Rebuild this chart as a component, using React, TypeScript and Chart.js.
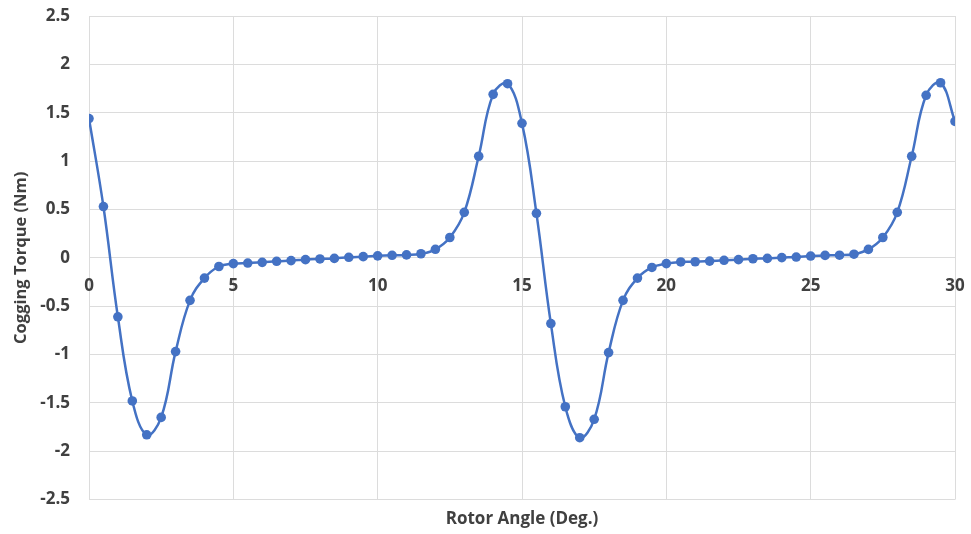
import React, { useEffect, useRef } from "react";
import { Chart, registerables } from "chart.js";

Chart.register(...registerables);

const angles: number[] = [
  0, 0.5, 1, 1.5, 2, 2.5, 3, 3.5, 4, 4.5, 5, 5.5, 6, 6.5, 7, 7.5, 8, 8.5, 9, 9.5,
  10, 10.5, 11, 11.5, 12, 12.5, 13, 13.5, 14, 14.5, 15, 15.5, 16, 16.5, 17, 17.5,
  18, 18.5, 19, 19.5, 20, 20.5, 21, 21.5, 22, 22.5, 23, 23.5, 24, 24.5, 25, 25.5,
  26, 26.5, 27, 27.5, 28, 28.5, 29, 29.5, 30,
];

const torque: number[] = [
  1.44, 0.53, -0.61, -1.48, -1.83, -1.65, -0.97, -0.44, -0.21, -0.09,
  -0.06, -0.054, -0.047, -0.036, -0.029, -0.019, -0.012, -0.006, 0.005, 0.012,
  0.02, 0.026, 0.03, 0.042, 0.088, 0.21, 0.47, 1.05, 1.69, 1.8,
  1.39, 0.46, -0.68, -1.54, -1.86, -1.67, -0.98, -0.44, -0.21, -0.1,
  -0.06, -0.043, -0.041, -0.034, -0.026, -0.019, -0.01, -0.006, 0.002, 0.008,
  0.018, 0.025, 0.027, 0.037, 0.087, 0.21, 0.47, 1.05, 1.68, 1.81,
  1.41,
];

const xTitle = "Rotor Angle (Deg.)";
const yTitle = "Cogging Torque (Nm)";

const TEXT = "#404040";
const GRID = "#dcdcdc";
const BLUE = "#4472C4";
const FAMILY = "'Open Sans', 'Noto Sans', sans-serif";

export default function App() {
  const ref = useRef<HTMLCanvasElement | null>(null);

  useEffect(() => {
    if (!ref.current) return;
    const chart = new Chart(ref.current, {
      type: "line",
      data: {
        datasets: [
          {
            data: angles.map((a, i) => ({ x: a, y: torque[i] })),
            borderColor: BLUE,
            backgroundColor: BLUE,
            borderWidth: 2.5,
            pointRadius: 4.8,
            pointBorderWidth: 0,
            pointBackgroundColor: BLUE,
            tension: 0.4,
            fill: false,
          },
        ],
      },
      options: {
        animation: false,
        responsive: true,
        maintainAspectRatio: false,
        layout: { padding: { top: 16, right: 16, left: 0, bottom: 0 } },
        plugins: {
          legend: { display: false },
          tooltip: { enabled: false },
          title: {
            display: true,
            text: xTitle,
            position: "bottom",
            fullSize: false,
            color: TEXT,
            font: { family: FAMILY, size: 17, weight: "bold" },
            padding: { top: 9, bottom: 5 },
          },
        },
        scales: {
          y: {
            type: "linear",
            min: -2.5,
            max: 2.5,
            ticks: {
              stepSize: 0.5,
              padding: 19,
              color: TEXT,
              font: { family: FAMILY, size: 17, weight: "bold" },
              callback: (v: any) => String(Math.round(Number(v) * 10) / 10),
            },
            grid: { color: GRID, lineWidth: 1, drawTicks: false },
            border: { display: false },
            title: {
              display: true,
              text: yTitle,
              color: TEXT,
              font: { family: FAMILY, size: 16.5, weight: "bold" },
              padding: { top: 11, bottom: 0 },
            },
            afterFit: (s: any) => {
              s.width = 89;
              s.paddingTop = 0;
              s.paddingBottom = 0;
            },
          },
          x: {
            type: "linear",
            min: 0,
            max: 30,
            position: { y: 0 } as any,
            ticks: {
              stepSize: 5,
              padding: 18,
              maxRotation: 0,
              autoSkip: false,
              color: TEXT,
              font: { family: FAMILY, size: 17, weight: "bold" },
            },
            grid: { color: GRID, lineWidth: 1, drawTicks: false },
            border: { display: false },
            afterFit: (s: any) => {
              s.paddingLeft = 0;
              s.paddingRight = 0;
            },
          },
        },
      } as any,
    });
    return () => chart.destroy();
  }, []);

  return (
    <div
      style={{
        position: "fixed",
        left: 0,
        top: 0,
        width: 971,
        height: 534,
        background: "#fff",
      }}
    >
      <canvas ref={ref} />
    </div>
  );
}
